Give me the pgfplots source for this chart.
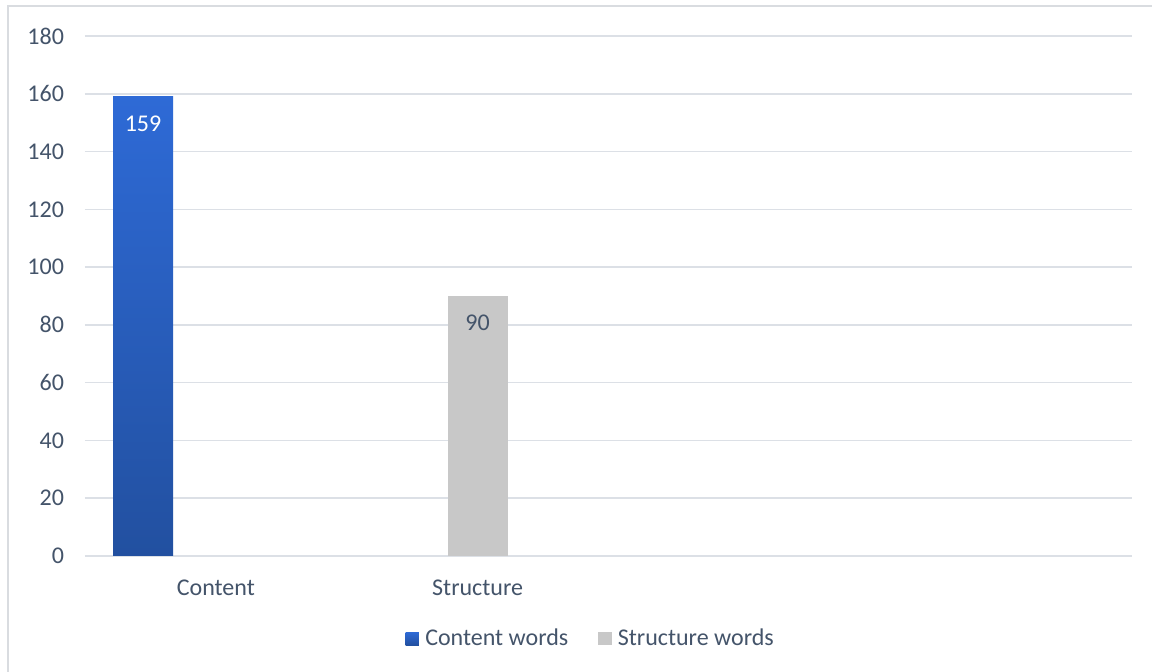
\documentclass[border=0pt]{standalone}
\usepackage{pgfplots}
\pgfplotsset{compat=1.18}
\usepackage{fontspec}
\setmainfont{Carlito}
\definecolor{txt}{HTML}{44546A}
\definecolor{gridc}{HTML}{DCE0E6}
\definecolor{framec}{HTML}{D9DCE0}
\definecolor{bluetop}{HTML}{2E6AD6}
\definecolor{bluebot}{HTML}{2250A0}
\definecolor{gbar}{HTML}{C8C8C8}
\begin{document}
\begin{tikzpicture}
\path[use as bounding box, fill=white] (0,0) rectangle (576pt,336pt);
\draw[framec, line width=0.7pt] (4pt,0) -- (4pt,333pt) -- (577pt,333pt);
\begin{axis}[
  at={(42.5pt,58pt)}, anchor=south west,
  scale only axis, width=523.5pt, height=260pt,
  ybar, bar width=30pt,
  xmin=-0.5, xmax=3.5, ymin=0, ymax=180,
  ytick={0,20,...,180},
  xtick={0,1}, xticklabels={Content,Structure},
  axis line style={draw=none},
  major tick length=0pt,
  ymajorgrids, xmajorgrids=false,
  major grid style={draw=gridc, line width=0.75pt},
  font=\fontsize{12}{14}\selectfont,
  /pgf/number format/assume math mode=true,
  ticklabel style={text=txt, font=\fontsize{12}{14}\selectfont},
  yticklabel style={xshift=-7pt},
  xticklabel style={yshift=-8.5pt},
  legend style={at={(0.484,-0.159)}, anchor=center, draw=none, fill=none,
    legend columns=2, font=\fontsize{12}{14}\selectfont, text=txt,
    /tikz/every odd column/.append style={column sep=1.2pt},
    /tikz/every even column/.append style={column sep=13pt},
    inner sep=0pt, row sep=0pt},
  legend image code/.code={\path[#1,draw=none] (0pt,-3.3pt) rectangle (6.6pt,3.3pt);},
  nodes near coords,
  every node near coord/.append style={anchor=center, yshift=-13.5pt, font=\fontsize{12}{14}\selectfont},
  clip=false,
]
\addplot[draw=none, top color=bluetop, bottom color=bluebot, bar shift=0pt,
  every node near coord/.append style={text=white}]
  coordinates {(-0.2784,159)};
\addlegendentry{Content words}
\addplot[draw=none, fill=gbar, bar shift=0pt,
  every node near coord/.append style={text=txt}]
  coordinates {(1.0,90)};
\addlegendentry{Structure words}
\end{axis}
\end{tikzpicture}
\end{document}
